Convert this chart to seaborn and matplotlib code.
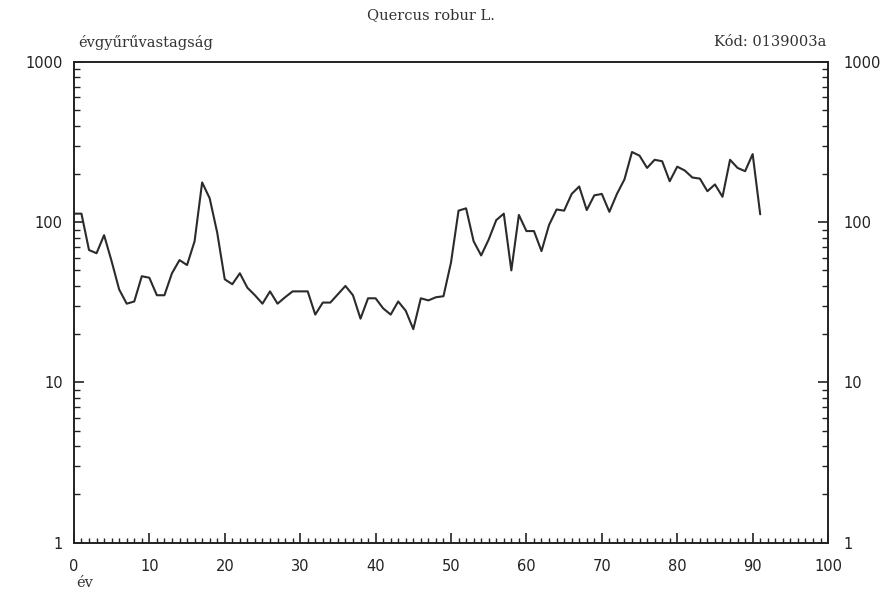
import numpy as np
import pandas as pd
import matplotlib
matplotlib.use("Agg")
import matplotlib.pyplot as plt
from matplotlib.ticker import MultipleLocator, LogLocator, NullFormatter, FixedLocator, FixedFormatter
import seaborn as sns

# ring width series (one value per year)
years = list(range(0, 92))
ring_width = [
    113, 113, 67, 64, 83, 57, 38, 31, 32, 46,
    45, 35, 35, 48, 58, 54, 76, 177, 141, 86,
    44, 41, 48, 39, 35, 31, 37, 31, 34, 37,
    37, 37, 26.5, 31.5, 31.5, 35.5, 40, 35, 25, 33.5,
    33.5, 29, 26.5, 32, 28, 21.5, 33.5, 32.5, 34, 34.5,
    56, 118, 122, 76, 62, 78, 103, 113, 50, 111,
    88, 88, 66, 96, 120, 118, 150, 167, 119, 147,
    150, 116, 150, 185, 274, 260, 218, 245, 240, 180,
    222, 210, 190, 187, 156, 172, 144, 245, 218, 208,
    266, 112,
]
y_ticks = [1, 10, 100, 1000]
y_tick_labels = ["1", "10", "100", "1000"]
x_ticks = list(range(0, 101, 10))

title = "Quercus robur L."
y_title = "évgyűrűvastagság"
code_text = "Kód: 0139003a"
x_title = "év"

sns.set_theme(style="ticks")
plt.rcParams["font.family"] = ["DejaVu Sans"]

df = pd.DataFrame({"ev": years, "vastagsag": ring_width})

fig = plt.figure(figsize=(8.8, 6.01), dpi=100)
ax = fig.add_axes([0.084, 0.097, 0.857, 0.800])

sns.lineplot(data=df, x="ev", y="vastagsag", color="#2b2b2b", linewidth=1.5, ax=ax)

ax.set_yscale("log")
ax.set_xlim(0, 100)
ax.set_ylim(1, 1000)

ax.xaxis.set_major_locator(FixedLocator(x_ticks))
ax.xaxis.set_minor_locator(MultipleLocator(1))
ax.yaxis.set_major_locator(FixedLocator(y_ticks))
ax.yaxis.set_major_formatter(FixedFormatter(y_tick_labels))
ax.yaxis.set_minor_locator(LogLocator(base=10, subs=np.arange(2, 10)))
ax.yaxis.set_minor_formatter(NullFormatter())

ax.tick_params(axis="x", which="major", direction="in", length=7, width=1.2,
               labelsize=10.5, pad=12, colors="#222222")
ax.tick_params(axis="x", which="minor", direction="in", length=3.5, width=1.0,
               colors="#222222")
ax.tick_params(axis="y", which="major", direction="in", length=7, width=1.2,
               labelsize=10.5, left=True, right=True, labelleft=True,
               labelright=True, pad=8, colors="#222222")
ax.tick_params(axis="y", which="minor", direction="in", length=4, width=1.0,
               left=True, right=True, colors="#222222")
# right-hand labels sit close to the spine
for t in ax.yaxis.get_major_ticks():
    t.label2.set_x(1.005)
    t.label2.set_horizontalalignment("left")

for sp in ax.spines.values():
    sp.set_visible(True)
    sp.set_color("#222222")
    sp.set_linewidth(1.4)

ax.set_xlabel("")
ax.set_ylabel("")
ax.grid(False)

fig.text(0.49, 0.975, title, ha="center", va="center", fontsize=10.5,
         family="DejaVu Serif", color="#333333")
fig.text(0.089, 0.930, y_title, ha="left", va="center", fontsize=10.5,
         family="DejaVu Serif", color="#333333")
fig.text(0.939, 0.930, code_text, ha="right", va="center", fontsize=10.5,
         family="DejaVu Serif", color="#333333")
fig.text(0.087, 0.030, x_title, ha="left", va="center", fontsize=10.5,
         family="DejaVu Serif", color="#333333")

fig.savefig("out.png", dpi=100, facecolor="white")
